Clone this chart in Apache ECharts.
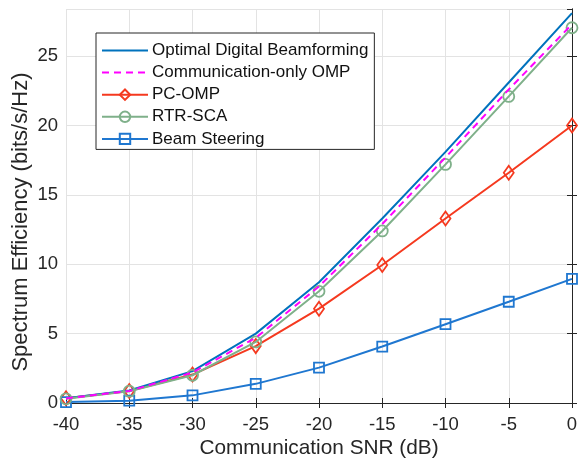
<!DOCTYPE html>
<html><head><meta charset="utf-8">
<script src="https://cdn.jsdelivr.net/npm/echarts@6/dist/echarts.min.js"></script>
<style>html,body{margin:0;padding:0;background:#fff}#c{width:581px;height:459px}</style>
</head><body><div id="c"></div>
<script>
const snr = [-40,-35,-30,-25,-20,-15,-10,-5,0];
const optimalDigital = [0.35,0.9,2.3,5.0,8.7,13.3,18.1,23.1,28.1];
const commOnlyOMP = [0.33,0.87,2.2,4.7,8.4,12.9,17.7,22.6,27.3];
const pcOMP = [0.35,0.87,2.05,4.1,6.8,9.95,13.3,16.6,20.0];
const rtrSCA = [0.3,0.85,2.0,4.4,8.05,12.4,17.2,22.1,27.05];
const beamSteering = [0.07,0.17,0.55,1.38,2.55,4.07,5.68,7.3,8.95];
const yTicks = [0,5,10,15,20,25];
const xTicks = [-40,-35,-30,-25,-20,-15,-10,-5,0];

const pair = arr => snr.map((x,i)=>[x,arr[i]]);
const FONT = '"Liberation Sans", Arial, sans-serif';
const chart = echarts.init(document.getElementById('c'));
const axisCommon = {
  axisLine:{show:true,lineStyle:{color:'#262626',width:1}},
  axisTick:{show:true,inside:true,length:5,lineStyle:{color:'#262626'}},
  splitLine:{show:false}
};
chart.setOption({
  animation:false,
  textStyle:{fontFamily:FONT},
  grid:{left:66,right:9,top:9,bottom:56,containLabel:false,outerBoundsMode:'none'},
  legend:{
    orient:'vertical',left:96,top:33,
    padding:[9,6,2,5],
    backgroundColor:'#fff',borderColor:'#262626',borderWidth:1,
    itemWidth:46,itemHeight:13,itemGap:5.1,
    textStyle:{fontSize:17,color:'#111',fontFamily:FONT,padding:[0,0,0,-1]},
    data:['Optimal Digital Beamforming','Communication-only OMP','PC-OMP','RTR-SCA','Beam Steering']
  },
  xAxis:[
    Object.assign({type:'value',min:-40,max:0,interval:5,position:'bottom',
      name:'Communication SNR (dB)',nameLocation:'middle',nameGap:35,nameMoveOverlap:false,
      nameTextStyle:{fontSize:20.8,color:'#262626',fontFamily:FONT},
      axisLabel:{fontSize:18.5,color:'#262626',margin:12,fontFamily:FONT},
    },axisCommon,{splitLine:{show:true,lineStyle:{color:'#e3e3e3',width:1}}}),
    Object.assign({type:'value',min:-40,max:0,interval:5,position:'top',axisLabel:{show:false}},axisCommon)
  ],
  yAxis:[
    Object.assign({type:'value',min:0,max:28.4,interval:5,position:'left',
      name:'Spectrum Efficiency (bits/s/Hz)',nameLocation:'middle',nameGap:34,nameMoveOverlap:false,
      nameTextStyle:{fontSize:22,color:'#262626',fontFamily:FONT,padding:[0,32,0,0]},
      axisLabel:{fontSize:18.5,color:'#262626',margin:8,showMaxLabel:false,fontFamily:FONT},
    },axisCommon,{splitLine:{show:true,lineStyle:{color:'#e3e3e3',width:1}}}),
    Object.assign({type:'value',min:0,max:28.4,interval:5,position:'right',axisLabel:{show:false}},axisCommon)
  ],
  series:[
    {name:'Optimal Digital Beamforming',type:'line',data:pair(optimalDigital),symbol:'none',z:5,
      lineStyle:{color:'#0072BD',width:2},itemStyle:{color:'rgba(0,0,0,0)',borderWidth:0}},
    {name:'Communication-only OMP',type:'line',data:pair(commOnlyOMP),symbol:'none',z:6,
      lineStyle:{color:'#FF00FF',width:2,type:[7,5]},itemStyle:{color:'rgba(0,0,0,0)',borderWidth:0}},
    {name:'PC-OMP',type:'line',data:pair(pcOMP),symbol:'diamond',symbolSize:[10,14],z:4,
      lineStyle:{color:'#F5391F',width:2},itemStyle:{color:'rgba(255,255,255,0)',borderColor:'#F5391F',borderWidth:1.8}},
    {name:'RTR-SCA',type:'line',data:pair(rtrSCA),symbol:'circle',symbolSize:11,z:5,
      lineStyle:{color:'#7FB08A',width:2},itemStyle:{color:'rgba(255,255,255,0)',borderColor:'#7FB08A',borderWidth:1.8}},
    {name:'Beam Steering',type:'line',data:pair(beamSteering),symbol:'rect',symbolSize:10,z:4,
      lineStyle:{color:'#1F77D0',width:2},itemStyle:{color:'rgba(255,255,255,0)',borderColor:'#1F77D0',borderWidth:1.8}}
  ]
});
</script></body></html>
